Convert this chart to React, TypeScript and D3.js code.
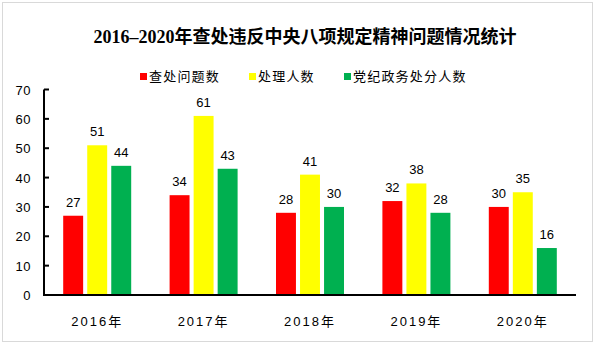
import React from "react";
import * as d3 from "d3";

const categories = ["2016年", "2017年", "2018年", "2019年", "2020年"];
const seriesNames = ["查处问题数", "处理人数", "党纪政务处分人数"];
const problems = [27, 34, 28, 32, 30];
const handled = [51, 61, 41, 38, 35];
const punished = [44, 43, 30, 28, 16];
const yTicks = [0, 10, 20, 30, 40, 50, 60, 70];
const colors = ["#FF0000", "#FFFF00", "#00B050"];

const W = 595, H = 345;
const m = { left: 44, right: 576, top: 89.5, bottom: 295 };
const sans = "'Liberation Sans', Arial, 'Noto Sans CJK SC', sans-serif";

export default function App() {
  const series = [problems, handled, punished];
  const x = d3.scaleBand<string>().domain(categories).range([m.left, m.right]);
  const y = d3.scaleLinear().domain([0, 70]).range([m.bottom, m.top]);
  const inner = d3.scaleBand<number>().domain([0, 1, 2]).range([0, 68]).paddingInner(0.17);
  const legendX = [140, 249, 344];
  return (
    <svg width={W} height={H} style={{ position: "absolute", left: 0, top: 0, background: "#fff" }}>
      <rect x={2.5} y={2.5} width={590} height={339} fill="#fff" stroke="#d9d9d9" strokeWidth={1} />
      <text x={305} y={43} textAnchor="middle" fontFamily="'Liberation Serif', 'Noto Sans CJK SC', serif" fontWeight="bold" fontSize={18}>
        2016–2020年查处违反中央八项规定精神问题情况统计
      </text>
      {seriesNames.map((n, i) => (
        <g key={n}>
          <rect x={legendX[i]} y={73} width={7} height={7} fill={colors[i]} />
          <text x={legendX[i] + 9} y={81} fontFamily={sans} fontSize={13} letterSpacing={1.2}>{n}</text>
        </g>
      ))}
      {categories.map((c, ci) => {
        const gx = x(c)! + x.bandwidth() / 2 - 34;
        return series.map((s, si) => (
          <g key={c + si}>
            <rect x={gx + inner(si)!} y={y(s[ci])} width={inner.bandwidth()} height={m.bottom - y(s[ci])} fill={colors[si]} />
            <text x={gx + inner(si)! + inner.bandwidth() / 2} y={y(s[ci]) - 9} textAnchor="middle" fontFamily={sans} fontSize={13}>{s[ci]}</text>
          </g>
        ));
      })}
      <line x1={m.left} x2={m.left} y1={m.top} y2={m.bottom + 1} stroke="#000" strokeWidth={2} />
      <line x1={m.left - 1} x2={m.right} y1={m.bottom} y2={m.bottom} stroke="#000" strokeWidth={2} />
      {yTicks.map(t => (
        <g key={t}>
          <line x1={m.left} x2={m.left + 5} y1={y(t)} y2={y(t)} stroke="#000" strokeWidth={2} />
          <text x={31} y={y(t) + 5} textAnchor="end" fontFamily={sans} fontSize={13} letterSpacing={0.5}>{t}</text>
        </g>
      ))}
      {categories.map(c => (
        <text key={c} x={x(c)! + x.bandwidth() / 2} y={326} textAnchor="middle" fontFamily={sans} fontSize={13} letterSpacing={2}>{c}</text>
      ))}
    </svg>
  );
}
